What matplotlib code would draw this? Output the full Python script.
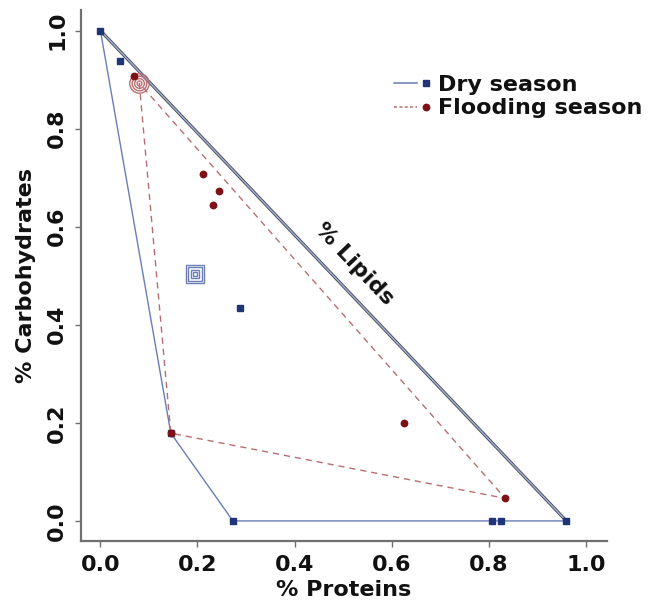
import numpy as np
import matplotlib
matplotlib.use("Agg")
import matplotlib.pyplot as plt
from matplotlib.lines import Line2D
from matplotlib.legend_handler import HandlerLine2D

plt.rcParams['font.family'] = ['DejaVu Sans']
plt.rcParams['font.weight'] = 'bold'

# Data
dry_x = [0.0, 0.04, 0.273, 0.807, 0.825, 0.96, 0.287, 0.145]
dry_y = [1.0, 0.938, 0.0, 0.0, 0.0, 0.0, 0.434, 0.179]
dry_hull_x = [0.0, 0.96, 0.273, 0.145, 0.0]
dry_hull_y = [1.0, 0.0, 0.0, 0.179, 1.0]
dry_centroid = (0.194, 0.503)

flood_x = [0.069, 0.211, 0.244, 0.232, 0.625, 0.145, 0.834]
flood_y = [0.908, 0.707, 0.673, 0.645, 0.199, 0.179, 0.046]
flood_hull_x = [0.08, 0.145, 0.834, 0.08]
flood_hull_y = [0.893, 0.179, 0.046, 0.893]
flood_centroid = (0.08, 0.893)

lipid_x = [0.0, 0.96]
lipid_y = [1.0, 0.0]

ticks = [0.0, 0.2, 0.4, 0.6, 0.8, 1.0]
tick_labels = ["0.0", "0.2", "0.4", "0.6", "0.8", "1.0"]

blue_pt = '#1f3576'
blue_ln = '#6a7db5'
red_pt = '#7e1016'
red_ln = '#b86e72'
spine_c = '#707070'

fig = plt.figure(figsize=(6.56, 6.01), dpi=100)
ax = fig.add_axes([0.1235, 0.0998, 0.802, 0.8835])

# lipid edge (double line)
ax.plot(lipid_x, lipid_y, color='#505050', lw=2.3, zorder=2, solid_capstyle='butt')
ax.plot(lipid_x, lipid_y, color='#a4b2d8', lw=0.8, zorder=2.1, solid_capstyle='butt')

ax.plot(dry_hull_x, dry_hull_y, color=blue_ln, lw=1.0, zorder=2)
ax.plot(flood_hull_x, flood_hull_y, color=red_ln, lw=1.0, ls=(0, (4.5, 3.5)), zorder=2)

ax.plot(dry_x, dry_y, ls='none', marker='s', ms=4.3, color=blue_pt, zorder=4)
ax.plot(flood_x, flood_y, ls='none', marker='o', ms=4.6, color=red_pt, zorder=5)

for s in [13, 9.5, 6, 2.5]:
    ax.plot([dry_centroid[0]], [dry_centroid[1]], marker='s', ms=s, mfc='none',
            mec=blue_ln, mew=1.0, ls='none', zorder=4)
for s in [14, 10.5, 7, 3.5]:
    ax.plot([flood_centroid[0]], [flood_centroid[1]], marker='o', ms=s, mfc='none',
            mec=red_ln, mew=1.0, ls='none', zorder=4)

ang = np.degrees(np.arctan2(lipid_y[1] - lipid_y[0], lipid_x[1] - lipid_x[0]))
ax.text(0.522, 0.524, '% Lipids', rotation=ang, transform_rotates_text=True,
        rotation_mode='anchor', ha='center', va='center', fontsize=16,
        fontweight='bold', color='#111111')

ax.set_xlim(-0.04, 1.044)
ax.set_ylim(-0.041, 1.042)
ax.set_xticks(ticks)
ax.set_xticklabels(tick_labels)
ax.set_yticks(ticks)
ax.set_yticklabels(tick_labels, rotation=90, va='center')
for sp in ['top', 'right']:
    ax.spines[sp].set_visible(False)
for sp in ['left', 'bottom']:
    ax.spines[sp].set_color(spine_c)
    ax.spines[sp].set_linewidth(1.6)
ax.tick_params(direction='out', length=4, width=1, color=spine_c,
               labelsize=16, labelcolor='#111111', pad=6)
for lab in ax.get_xticklabels() + ax.get_yticklabels():
    lab.set_fontweight('bold')
ax.set_xlabel('% Proteins', fontsize=16, fontweight='bold', color='#111111', labelpad=4)
ax.set_ylabel('% Carbohydrates', fontsize=16, fontweight='bold', color='#111111', labelpad=8)


class MarkerRightHandler(HandlerLine2D):
    def create_artists(self, legend, orig_handle, xdescent, ydescent, width,
                       height, fontsize, trans):
        y = (height - ydescent) / 2.0
        line = Line2D([-xdescent, -xdescent + width * 0.68], [y, y])
        self.update_prop(line, orig_handle, legend)
        line.set_marker('None')
        mk = Line2D([-xdescent + width * 0.93], [y])
        self.update_prop(mk, orig_handle, legend)
        mk.set_linestyle('None')
        line.set_transform(trans)
        mk.set_transform(trans)
        return [line, mk]


h_dry = Line2D([], [], color=blue_ln, lw=1.1, marker='s', ms=4.3,
               mfc=blue_pt, mec=blue_pt)
h_fl = Line2D([], [], color=red_ln, lw=1.1, ls=(0, (2, 1.5)), marker='o', ms=4.6,
              mfc=red_pt, mec=red_pt)
leg = fig.legend([h_dry, h_fl], ['Dry season', 'Flooding season'],
                 loc='upper left', bbox_to_anchor=(394 / 656, 1 - 75 / 601),
                 frameon=False, fontsize=16, handlelength=1.55, handletextpad=0.45,
                 labelspacing=0.15, borderpad=0, borderaxespad=0,
                 handler_map={Line2D: MarkerRightHandler()})
for t in leg.get_texts():
    t.set_fontweight('bold')
    t.set_color('#111111')

fig.savefig('out.png', dpi=100)
